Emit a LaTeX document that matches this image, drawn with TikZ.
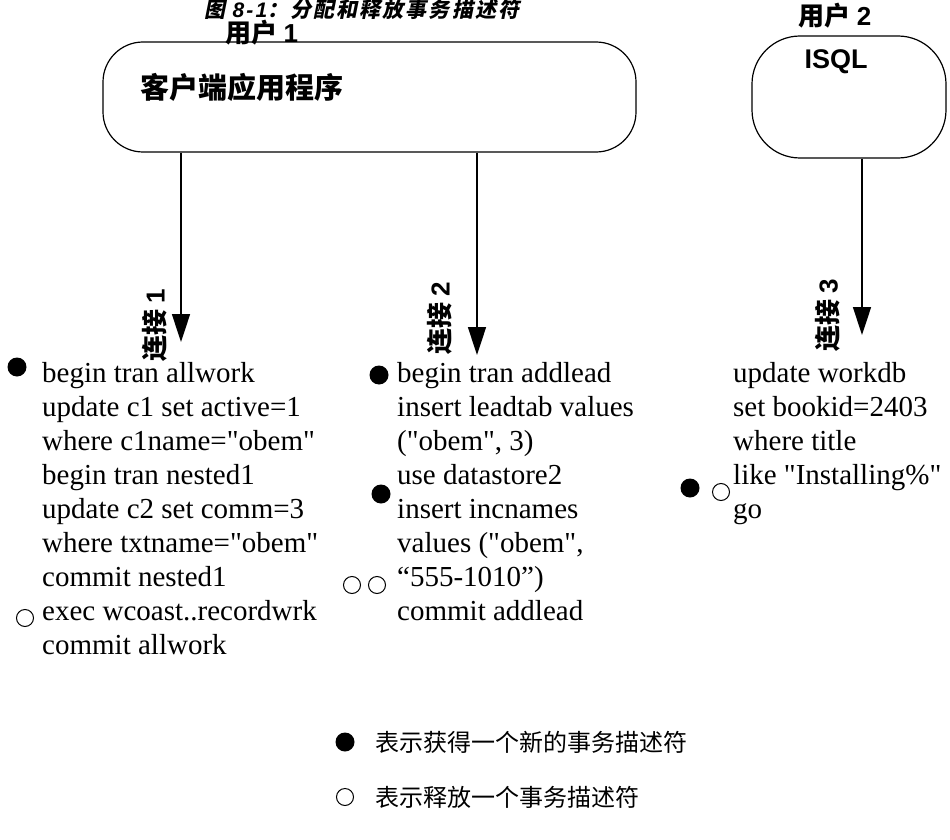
\documentclass[tikz,border=0pt]{standalone}
\usepackage{fontspec}
\setmainfont{Liberation Serif}[Ligatures=TeXOff]
\newfontfamily\lsans{Liberation Sans}
\newfontfamily\lsanstitle[LetterSpace=10]{Liberation Sans}
\newfontfamily\cjk{Noto Sans CJK SC}
\newfontfamily\cjkslant[FakeSlant=0.2, LetterSpace=10]{Noto Sans CJK SC}
\usetikzlibrary{arrows.meta}
\begin{document}
\begin{tikzpicture}[x=1pt,y=-1pt,
  head/.style={inner sep=0pt, font=\cjk\bfseries\fontsize{26pt}{29pt}\selectfont},
  conn/.style={inner sep=0pt, rotate=90, font=\cjk\bfseries\fontsize{26pt}{30pt}\selectfont},
  code/.style={inner sep=0pt, anchor=north west, align=left, font=\fontsize{29pt}{34pt}\selectfont},
  legend/.style={inner sep=0pt, anchor=west, font=\cjk\fontsize{24pt}{28pt}\selectfont},
  appbox/.style={draw, line width=1.2pt, inner sep=0pt},
  arr/.style={line width=1.6pt, -{Triangle[length=28pt,width=18pt]}},
  fdot/.style={circle, fill=black, inner sep=0pt, minimum size=19pt},
  hdot/.style={circle, draw, line width=1pt, inner sep=0pt, minimum size=17pt}]
\useasboundingbox (0,0) rectangle (950,840);

% title
\node[inner sep=0pt, font=\cjkslant\bfseries\fontsize{21pt}{24pt}\selectfont] (title) at (362,9)
  {图 {\lsanstitle\itshape 8-1}：分配和释放事务描述符};

% user 1
\node[head] (user1) at (262,32.5) {用户 {\lsans 1}};
\node[appbox, rounded corners=40pt, minimum width=533pt, minimum height=110pt] (box1) at (369.5,97) {};
\node[inner sep=0pt, anchor=west, font=\cjk\bfseries\fontsize{29pt}{32pt}\selectfont] (app) at (140,87) {客户端应用程序};

% user 2
\node[head] (user2) at (835,16) {用户 {\lsans 2}};
\node[appbox, rounded corners=48pt, minimum width=194pt, minimum height=122pt] (box2) at (849,97) {};
\node[inner sep=0pt, font=\lsans\bfseries\fontsize{27pt}{30pt}\selectfont] (isql) at (836,62) {ISQL};

% arrows
\coordinate (t1) at (181,342);
\coordinate (t2) at (477,355);
\coordinate (t3) at (862,335);
\draw[arr] (box1.south -| t1) -- (t1);
\draw[arr] (box1.south -| t2) -- (t2);
\draw[arr] (box2.south -| t3) -- (t3);

\node[conn] (c1) at (155,325) {连接 {\lsans 1}};
\node[conn] (c2) at (440,318) {连接 {\lsans 2}};
\node[conn] (c3) at (828,315) {连接 {\lsans 3}};

% code blocks
\node[code] (code1) at (42,362) {begin tran allwork\\
update c1 set active=1\\
where c1name="obem"\\
begin tran nested1\\
update c2 set comm=3\\
where txtname="obem"\\
commit nested1\\
exec wcoast..recordwrk\\
commit allwork};

\node[code] (code2) at (397,362) {begin tran addlead\\
insert leadtab values\\
("obem", 3)\\
use datastore2\\
insert incnames\\
values ("obem",\\
“555-1010”)\\
commit addlead};

\node[code] (code3) at (733,362) {update workdb\\
set bookid=2403\\
where title\\
like "Installing\%"\\
go};

% descriptor markers
\node[fdot] (m1) at (17,367) {};
\node[hdot] (m2) at (25,618) {};
\node[fdot] (m3) at (379,375) {};
\node[fdot] (m4) at (381,494) {};
\node[hdot] (m5) at (352,585) {};
\node[hdot] (m6) at (377,585) {};
\node[fdot] (m7) at (690,488) {};
\node[hdot] (m8) at (721,492) {};

% legend
\node[fdot] (lg1) at (345,742) {};
\node[legend] (lt1) at (375,742) {表示获得一个新的事务描述符};
\node[hdot] (lg2) at (345,797) {};
\node[legend] (lt2) at (375,797) {表示释放一个事务描述符};
\end{tikzpicture}
\end{document}
